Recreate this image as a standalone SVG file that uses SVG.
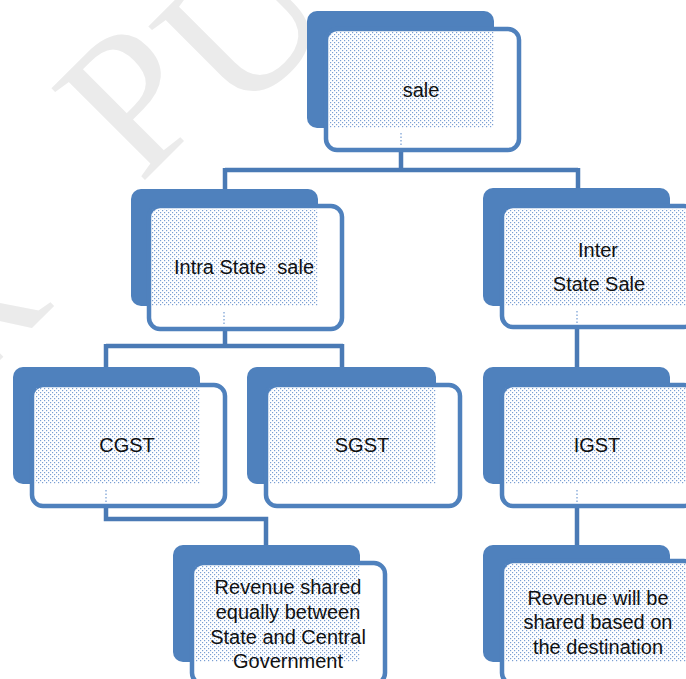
<svg xmlns="http://www.w3.org/2000/svg" width="686" height="679" viewBox="0 0 686 679">
<defs>
<pattern id="dots" width="4" height="4" patternUnits="userSpaceOnUse">
<rect x="0" y="0" width="1.2" height="1.2" fill="#7a9fd3"/>
<rect x="2" y="2" width="1.2" height="1.2" fill="#7a9fd3"/>
</pattern>
<style>
.back{fill:#4f81bd}
.front{fill:#ffffff;stroke:#4f81bd;stroke-width:4.5}
.dot{fill:url(#dots)}
.lbl{font-family:"Liberation Sans",Arial,sans-serif;font-size:20px;fill:#111;text-anchor:middle}
.conn{fill:none;stroke:#4a7ab5;stroke-width:4.5}
.tick{stroke:#8fb0dc;stroke-width:1.5;stroke-dasharray:1.5 2}
.wm{font-family:"Liberation Serif","Times New Roman",serif;font-size:200px;fill:#ebebeb}
</style>
</defs>
<rect width="686" height="679" fill="#ffffff"/>
<g id="watermark">
<text class="wm" transform="translate(-40,400) rotate(-45)">R</text>
<text class="wm" transform="translate(140,185) rotate(-45)">P</text>
<text class="wm" transform="translate(238,122) rotate(-45)">U</text>
</g>
<g id="connectors">
<path class="conn" d="M401,152 V170 M225,170 H578 M225,168 V190 M578,168 V190"/>
<path class="conn" d="M225,330 V346 M106,346 H343 M106,344 V368 M342,344 V368"/>
<path class="conn" d="M577,326 V368"/>
<path class="conn" d="M106,507 V519 H266 V546"/>
<path class="conn" d="M577,507 V546"/>
</g>
<g id="node-sale">
<rect class="back" x="307" y="11" width="187" height="117" rx="10"/>
<rect class="front" x="326" y="29" width="193" height="121" rx="11"/>
<rect class="dot" x="329" y="32" width="165" height="96"/>
<line class="tick" x1="401" y1="133" x2="401" y2="146"/>
<text class="lbl" x="421" y="97">sale</text>
</g>
<g id="node-intra">
<rect class="back" x="131" y="189" width="187" height="117" rx="10"/>
<rect class="front" x="149" y="206" width="193" height="123" rx="11"/>
<rect class="dot" x="152" y="209" width="166" height="97"/>
<line class="tick" x1="224" y1="312" x2="224" y2="325"/>
<text class="lbl" x="244" y="274" xml:space="preserve">Intra State  sale</text>
</g>
<g id="node-inter">
<rect class="back" x="483" y="188" width="187" height="118" rx="10"/>
<rect class="front" x="502" y="206" width="193" height="121" rx="11"/>
<rect class="dot" x="505" y="209" width="181" height="97"/>
<line class="tick" x1="577" y1="311" x2="577" y2="324"/>
<text class="lbl" x="598" y="257">Inter</text>
<text class="lbl" x="599" y="291">State Sale</text>
</g>
<g id="node-cgst">
<rect class="back" x="13" y="367" width="187" height="117" rx="10"/>
<rect class="front" x="32" y="385" width="193" height="121" rx="11"/>
<rect class="dot" x="35" y="388" width="165" height="96"/>
<line class="tick" x1="106" y1="490" x2="106" y2="503"/>
<text class="lbl" x="127" y="452">CGST</text>
</g>
<g id="node-sgst">
<rect class="back" x="247" y="367" width="189" height="117" rx="10"/>
<rect class="front" x="266" y="385" width="194" height="121" rx="11"/>
<rect class="dot" x="269" y="388" width="167" height="96"/>
<text class="lbl" x="362" y="452">SGST</text>
</g>
<g id="node-igst">
<rect class="back" x="483" y="367" width="187" height="117" rx="10"/>
<rect class="front" x="502" y="385" width="193" height="121" rx="11"/>
<rect class="dot" x="505" y="388" width="181" height="96"/>
<line class="tick" x1="577" y1="490" x2="577" y2="503"/>
<text class="lbl" x="597" y="452">IGST</text>
</g>
<g id="node-rev-central">
<rect class="back" x="173" y="545" width="187" height="117" rx="10"/>
<rect class="front" x="192" y="563" width="193" height="121" rx="11"/>
<rect class="dot" x="195" y="566" width="165" height="96"/>
<text class="lbl" x="288" y="594">Revenue shared</text>
<text class="lbl" x="288" y="619">equally between</text>
<text class="lbl" x="288" y="644">State and Central</text>
<text class="lbl" x="288" y="668">Government</text>
</g>
<g id="node-rev-dest">
<rect class="back" x="483" y="545" width="187" height="117" rx="10"/>
<rect class="front" x="502" y="561" width="193" height="123" rx="11"/>
<rect class="dot" x="505" y="564" width="181" height="98"/>
<text class="lbl" x="598" y="605">Revenue will be</text>
<text class="lbl" x="598" y="629">shared based on</text>
<text class="lbl" x="598" y="654">the destination</text>
</g>
</svg>
